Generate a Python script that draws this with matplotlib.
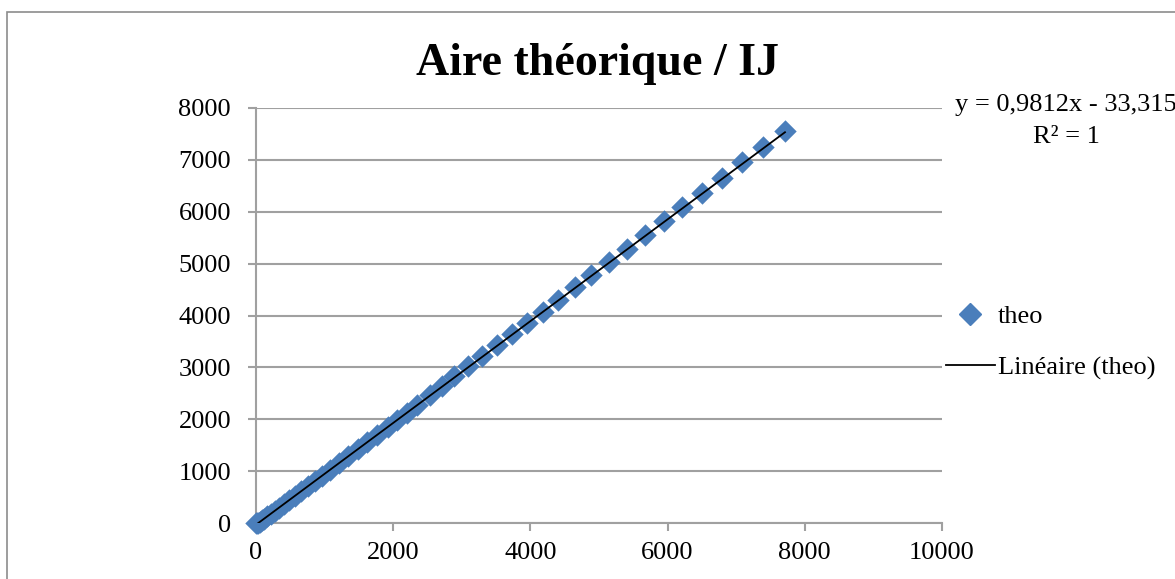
import numpy as np
import matplotlib
matplotlib.use("Agg")
import matplotlib.pyplot as plt
from matplotlib.patches import Rectangle
from matplotlib.lines import Line2D

plt.rcParams['font.family'] = ['Liberation Serif', 'DejaVu Serif']

# valeurs (IJ, aire théorique)
ij = [3, 13, 30, 55, 85, 120, 165, 215, 270, 335, 405, 480, 565, 655, 755,
      855, 965, 1085, 1210, 1340, 1480, 1620, 1770, 1920, 2060, 2201, 2347,
      2536, 2711, 2886, 3090, 3294, 3513, 3732, 3950, 4184, 4402, 4650, 4883,
      5146, 5408, 5671, 5947, 6210, 6501, 6793, 7085, 7391, 7711]
aire = [0, 2, 6, 22, 50, 85, 129, 178, 232, 295, 364, 438, 521, 609, 707,
        806, 914, 1031, 1154, 1282, 1419, 1556, 1703, 1851, 1988, 2130, 2280,
        2467, 2641, 2834, 3026, 3219, 3431, 3643, 3865, 4073, 4299, 4549, 4781,
        5031, 5282, 5555, 5822, 6092, 6371, 6651, 6959, 7248, 7557]

# tendance linéaire (Excel)
pente = 0.9812
origine = -33.315

bleu = '#4A7EBB'
gris = '#A0A0A0'

fig = plt.figure(figsize=(11.75, 5.79), dpi=100)
ax = fig.add_axes([256 / 1175, 1 - 523 / 579, 686 / 1175, 415 / 579])

ax.scatter(ij, aire, marker='D', s=130, color=bleu, linewidths=0, zorder=3, clip_on=False)
x_trend = np.array([0, max(ij)])
ax.plot(x_trend, pente * x_trend + origine, color='black', lw=1.3, zorder=4)

ax.set_xlim(0, 10000)
ax.set_ylim(0, 8000)
ax.set_xticks(np.arange(0, 10001, 2000))
ax.set_yticks(np.arange(0, 8001, 1000))
ax.yaxis.grid(True, color=gris, lw=1.5)
ax.set_axisbelow(True)
for s in ['top', 'right']:
    ax.spines[s].set_visible(False)
for s in ['left', 'bottom']:
    ax.spines[s].set_color(gris)
    ax.spines[s].set_linewidth(1.5)
ax.tick_params(axis='both', colors=gris, labelcolor='black', labelsize=19,
               length=6, width=1.5, direction='out')
ax.tick_params(axis='y', pad=12)
ax.tick_params(axis='x', pad=8)

fig.text(597 / 1175, 1 - 64 / 579, 'Aire théorique / IJ', ha='center', va='center',
         fontsize=33, fontweight='bold')

# équation de la tendance
fig.text(1066 / 1175, 1 - 105 / 579, 'y = 0,9812x - 33,315', ha='center', va='center', fontsize=19)
fig.text(1066 / 1175, 1 - 137 / 579, 'R² = 1', ha='center', va='center', fontsize=19)

# légende
handles = [Line2D([], [], marker='D', color=bleu, ls='none', markersize=11),
           Line2D([], [], color='black', lw=1.3)]
fig.legend(handles, ['theo', 'Linéaire (theo)'], loc='center left',
           bbox_to_anchor=(946 / 1175, 1 - 342 / 579), frameon=False, fontsize=19,
           handlelength=1.85, handletextpad=0.12, labelspacing=1.05, borderaxespad=0,
           borderpad=0)

# cadre du graphique
fig.patches.append(Rectangle((7 / 1175, -0.1), 1.2, 1 - 12 / 579 + 0.1,
                             transform=fig.transFigure, fill=False, ec='#8C8C8C', lw=1.2))

fig.savefig('out.png', dpi=100)
